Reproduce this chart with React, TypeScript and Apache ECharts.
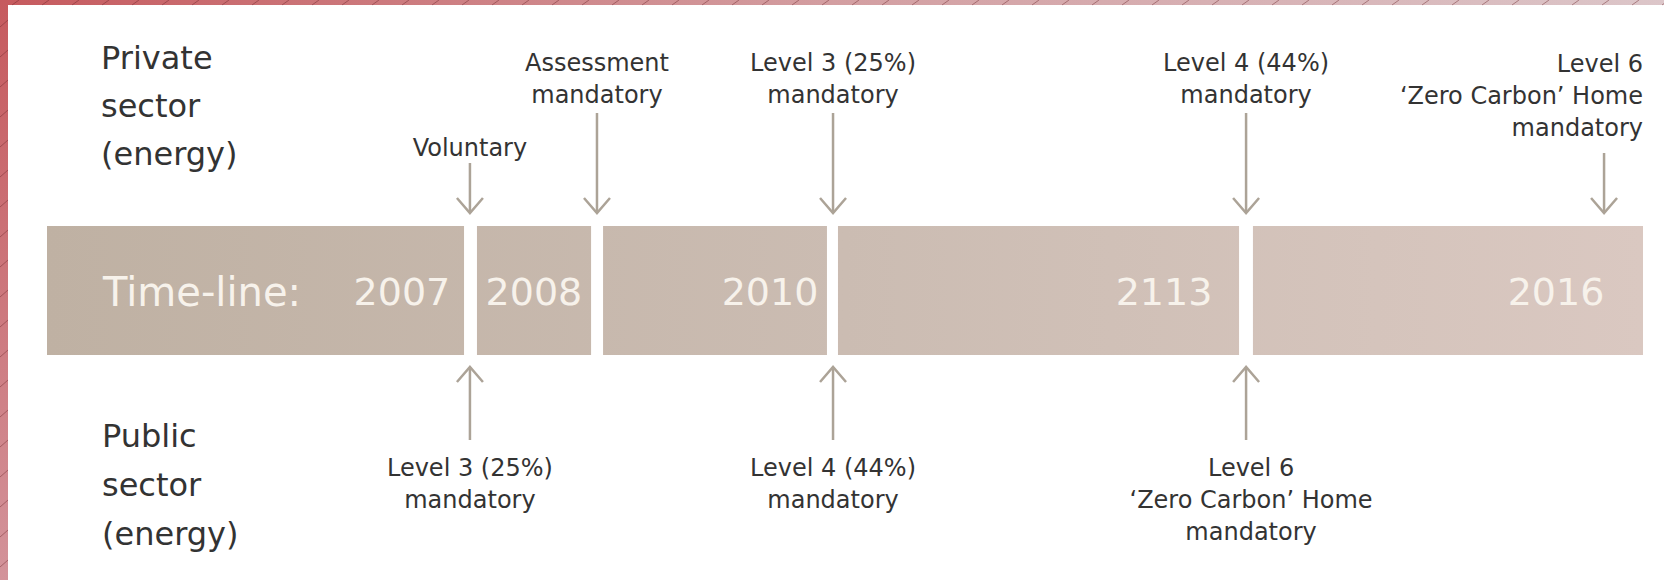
import React, { useEffect, useRef } from "react";
import * as echarts from "echarts";

// ---- Data ----
const barTitle = "Time-line:";
const yearLabels = ["2007", "2008", "2010", "2113", "2016"];
const segmentStart = [0, 26.94, 34.84, 49.56, 75.56];
const segmentEnd = [26.13, 34.09, 48.87, 74.69, 100];
const yearLabelPos = [22.24, 30.51, 45.3, 69.99, 94.55];

const privateTitle = "Private\nsector\n(energy)";
const privatePos = [26.5, 34.46, 49.25, 75.13, 97.56];
const privateLabels = [
  "Voluntary",
  "Assessment\nmandatory",
  "Level 3 (25%)\nmandatory",
  "Level 4 (44%)\nmandatory",
  "Level 6\n\u2018Zero Carbon\u2019 Home\nmandatory",
];

const publicTitle = "Public\nsector\n(energy)";
const publicPos = [26.5, 49.25, 75.13];
const publicLabels = [
  "Level 3 (25%)\nmandatory",
  "Level 4 (44%)\nmandatory",
  "Level 6\n\u2018Zero Carbon\u2019 Home\nmandatory",
];

// ---- Layout (pixels) ----
const W = 1664;
const H = 580;
const BAR_LEFT = 47;
const BAR_RIGHT_MARGIN = 21;
const BAR_TOP = 226;
const BAR_H = 129;
const privArrowTop = [163, 113, 113, 113, 153];
const privLabelBottom = [148, 95, 95, 95, 128];
const privLabelAlign = ["center", "center", "center", "center", "right"];
const pubArrowEnd = 440;
const pubLabelTop = 468;
const pubLabelDx = [0, 0, 5];

const FONT = "DejaVu Sans";
const TEXT = "#333333";
const ARROW = "#aca397";
const ON_BAR = "#f7f2eb";

export default function App() {
  const ref = useRef<HTMLDivElement>(null);

  useEffect(() => {
    if (!ref.current) return;
    const chart = echarts.init(ref.current, null, { renderer: "svg" });

    const barGradient = new echarts.graphic.LinearGradient(
      BAR_LEFT, 0, W - BAR_RIGHT_MARGIN, 0,
      [
        { offset: 0, color: "#bfb1a3" },
        { offset: 0.5, color: "#cbbcb2" },
        { offset: 1, color: "#dac8c1" },
      ],
      true
    );

    const hatch: any[] = [];
    for (let x = 12; x < W; x += 30) {
      hatch.push({
        type: "line", silent: true, z: 21,
        shape: { x1: x, y1: 5, x2: x + 7, y2: 0 },
        style: { stroke: "rgba(110,40,45,0.45)", lineWidth: 1 },
      });
    }
    for (let y = 20; y < H; y += 30) {
      hatch.push({
        type: "line", silent: true, z: 21,
        shape: { x1: 0, y1: y + 7, x2: 8, y2: y },
        style: { stroke: "rgba(110,40,45,0.45)", lineWidth: 1 },
      });
    }

    const option: any = {
      animation: false,
      backgroundColor: "#ffffff",
      grid: { left: BAR_LEFT, right: BAR_RIGHT_MARGIN, top: BAR_TOP, height: BAR_H },
      xAxis: { type: "value", min: 0, max: 100, show: false },
      yAxis: { type: "value", min: 0, max: 1, show: false },
      graphic: [
        {
          type: "rect", silent: true, z: 20,
          shape: { x: 0, y: 0, width: W, height: 5 },
          style: {
            fill: new echarts.graphic.LinearGradient(0, 0, 1, 0, [
              { offset: 0, color: "#c65a5e" },
              { offset: 0.5, color: "#d39ea1" },
              { offset: 1, color: "#dcc6c9" },
            ]),
          },
        },
        {
          type: "rect", silent: true, z: 20,
          shape: { x: 0, y: 0, width: 8, height: H },
          style: {
            fill: new echarts.graphic.LinearGradient(0, 0, 0, 1, [
              { offset: 0, color: "#c65a5e" },
              { offset: 1, color: "#d3939a" },
            ]),
          },
        },
        ...hatch,
        {
          type: "text", z: 20,
          style: {
            text: privateTitle, x: 101, y: 106, align: "left", verticalAlign: "middle",
            fontSize: 32, fontFamily: FONT, lineHeight: 48, fill: TEXT,
          },
        },
        {
          type: "text", z: 20,
          style: {
            text: publicTitle, x: 102, y: 485, align: "left", verticalAlign: "middle",
            fontSize: 32, fontFamily: FONT, lineHeight: 49, fill: TEXT,
          },
        },
        {
          type: "text", z: 20,
          style: {
            text: barTitle, x: 103, y: BAR_TOP + BAR_H / 2 + 1, align: "left", verticalAlign: "middle",
            fontSize: 40, fontFamily: FONT, fill: ON_BAR,
          },
        },
      ],
      series: [
        {
          type: "custom",
          name: "segments",
          coordinateSystem: "cartesian2d",
          encode: { x: [0, 1], y: 2 },
          data: segmentStart.map((s, i) => [s, segmentEnd[i], 0.5]),
          renderItem: (params: any, api: any) => {
            const i = params.dataIndex;
            const p0 = api.coord([segmentStart[i], 1]);
            const p1 = api.coord([segmentEnd[i], 0]);
            const lp = api.coord([yearLabelPos[i], 0.5]);
            return {
              type: "group",
              children: [
                {
                  type: "rect",
                  shape: { x: p0[0], y: p0[1], width: p1[0] - p0[0], height: p1[1] - p0[1] },
                  style: { fill: barGradient },
                },
                {
                  type: "text",
                  style: {
                    text: yearLabels[i], x: lp[0], y: lp[1] + 1, align: "center", verticalAlign: "middle",
                    fontSize: 38, fontFamily: FONT, fill: ON_BAR,
                  },
                },
              ],
            };
          },
        },
        {
          type: "custom",
          name: "private",
          coordinateSystem: "cartesian2d",
          encode: { x: 0, y: 1 },
          data: privatePos.map((p) => [p, 1]),
          renderItem: (params: any, api: any) => {
            const i = params.dataIndex;
            const top = api.coord([privatePos[i], 1]);
            const cx = top[0];
            const tipY = top[1] - 13;
            const align = privLabelAlign[i];
            const tx = align === "right" ? api.coord([100, 1])[0] : cx;
            return {
              type: "group",
              children: [
                {
                  type: "line",
                  shape: { x1: cx, y1: privArrowTop[i], x2: cx, y2: tipY },
                  style: { stroke: ARROW, lineWidth: 2.5 },
                },
                {
                  type: "polyline",
                  shape: { points: [[cx - 13, tipY - 15], [cx, tipY], [cx + 13, tipY - 15]] },
                  style: { stroke: ARROW, lineWidth: 2.5, fill: null },
                },
                {
                  type: "text",
                  style: {
                    text: privateLabels[i], x: tx, y: privLabelBottom[i] + 16, align, verticalAlign: "bottom",
                    fontSize: 24, fontFamily: FONT, lineHeight: 32, fill: TEXT,
                  },
                },
              ],
            };
          },
        },
        {
          type: "custom",
          name: "public",
          coordinateSystem: "cartesian2d",
          encode: { x: 0, y: 1 },
          data: publicPos.map((p) => [p, 0]),
          renderItem: (params: any, api: any) => {
            const i = params.dataIndex;
            const bot = api.coord([publicPos[i], 0]);
            const cx = bot[0];
            const tipY = bot[1] + 12;
            return {
              type: "group",
              children: [
                {
                  type: "line",
                  shape: { x1: cx, y1: tipY, x2: cx, y2: pubArrowEnd },
                  style: { stroke: ARROW, lineWidth: 2.5 },
                },
                {
                  type: "polyline",
                  shape: { points: [[cx - 13, tipY + 15], [cx, tipY], [cx + 13, tipY + 15]] },
                  style: { stroke: ARROW, lineWidth: 2.5, fill: null },
                },
                {
                  type: "text",
                  style: {
                    text: publicLabels[i], x: cx + pubLabelDx[i], y: pubLabelTop - 16, align: "center",
                    verticalAlign: "top", fontSize: 24, fontFamily: FONT, lineHeight: 32, fill: TEXT,
                  },
                },
              ],
            };
          },
        },
      ],
    };

    chart.setOption(option);
    return () => chart.dispose();
  }, []);

  return (
    <div
      ref={ref}
      style={{ position: "fixed", left: 0, top: 0, width: W, height: H, background: "#fff" }}
    />
  );
}
